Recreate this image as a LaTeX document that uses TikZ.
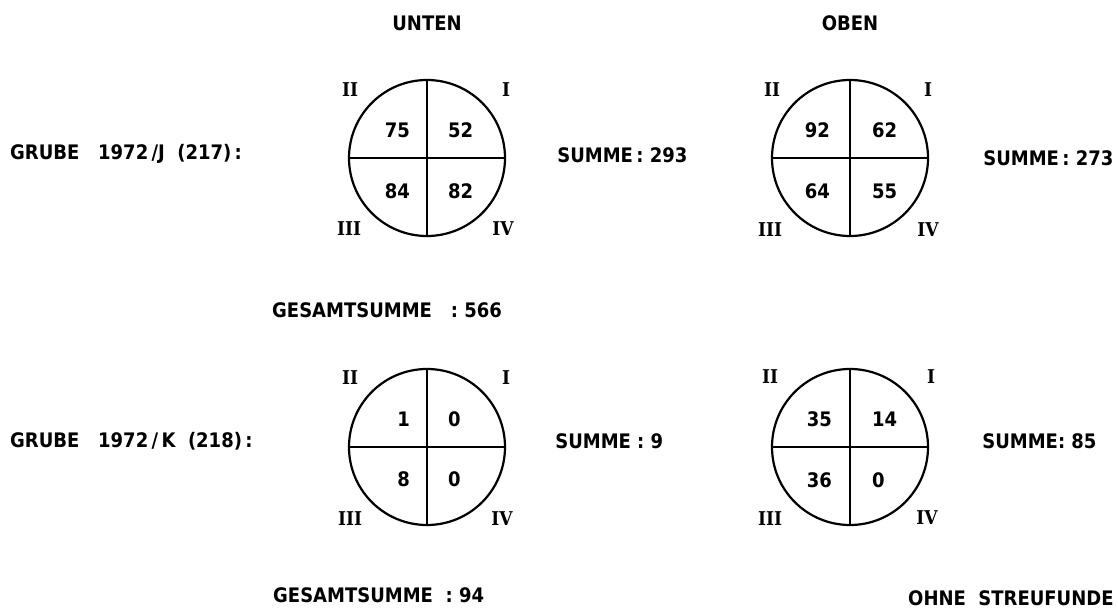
\documentclass[tikz,border=0pt]{standalone}
\usepackage{fontspec}
\setsansfont{DejaVu Sans Condensed}
\newfontfamily\roemfont{DejaVu Serif Condensed}
\usetikzlibrary{positioning}

\begin{document}
\begin{tikzpicture}[x=1pt, y=-1pt,
    txt/.style={font=\sffamily\bfseries\fontsize{20}{24}\selectfont, inner sep=0pt},
    roem/.style={font=\roemfont\bfseries\fontsize{19}{22}\selectfont, inner sep=0pt},
    quad/.style={circle, draw, line width=2.2pt, minimum size=156pt, inner sep=0pt},
    kreuz/.style={line width=1.8pt}]
  \useasboundingbox (0,0) rectangle (1118,610);

  \node[quad] (ju) at (427,158) {};
  \node[quad] (jo) at (850,158) {};
  \node[quad] (ku) at (427,447) {};
  \node[quad] (ko) at (850,447) {};

  \draw[kreuz] (ju.north) -- (ju.south);
  \draw[kreuz] (ju.west) -- (ju.east);
  \draw[kreuz] (jo.north) -- (jo.south);
  \draw[kreuz] (jo.west) -- (jo.east);
  \draw[kreuz] (ku.north) -- (ku.south);
  \draw[kreuz] (ku.west) -- (ku.east);
  \draw[kreuz] (ko.north) -- (ko.south);
  \draw[kreuz] (ko.west) -- (ko.east);

  \node[txt, above=48pt of ju] (unten) {UNTEN};
  \node[txt, above=48pt of jo] (oben) {OBEN};

  \node[txt, anchor=west] (grubej) at (10,154) {GRUBE~~~1972\,/J~~(217)\,:};
  \node[txt, anchor=west] (grubek) at (10,441) {GRUBE~~~1972\,/\,K~~(218)\,:};

  \node[txt, right=51pt of ju, yshift=3] (sju) {SUMME\,:~293};
  \node[txt, right=54pt of jo] (sjo) {SUMME\,:~273};
  \node[txt, right=49pt of ku, yshift=6] (sku) {SUMME~:~9};
  \node[txt, right=53pt of ko, yshift=6] (sko) {SUMME:~85};

  \node[txt, anchor=west] (gesj) at (272,310) {GESAMTSUMME~~~:~566};
  \node[txt, anchor=west] (gesk) at (273,595) {GESAMTSUMME~~:~94};
  \node[txt, anchor=west] (ohne) at (908,598) {OHNE~~STREUFUNDE};

  \node[txt, anchor=east, xshift=-17, yshift=28] (ju2) at (ju) {75};
  \node[txt, anchor=west, xshift=21, yshift=28] (ju1) at (ju) {52};
  \node[txt, anchor=east, xshift=-17, yshift=-33] (ju3) at (ju) {84};
  \node[txt, anchor=west, xshift=21, yshift=-33] (ju4) at (ju) {82};

  \node[txt, anchor=east, xshift=-20, yshift=28] (jo2) at (jo) {92};
  \node[txt, anchor=west, xshift=22, yshift=28] (jo1) at (jo) {62};
  \node[txt, anchor=east, xshift=-20, yshift=-33] (jo3) at (jo) {64};
  \node[txt, anchor=west, xshift=22, yshift=-33] (jo4) at (jo) {55};

  \node[txt, anchor=east, xshift=-17, yshift=28] (ku2) at (ku) {1};
  \node[txt, anchor=west, xshift=21, yshift=28] (ku1) at (ku) {0};
  \node[txt, anchor=east, xshift=-17, yshift=-32] (ku3) at (ku) {8};
  \node[txt, anchor=west, xshift=21, yshift=-32] (ku4) at (ku) {0};

  \node[txt, anchor=east, xshift=-18, yshift=28] (ko2) at (ko) {35};
  \node[txt, anchor=west, xshift=22, yshift=28] (ko1) at (ko) {14};
  \node[txt, anchor=east, xshift=-18, yshift=-33] (ko3) at (ko) {36};
  \node[txt, anchor=west, xshift=22, yshift=-33] (ko4) at (ko) {0};

  \node[roem, xshift=-77, yshift=68] (juii) at (ju) {II};
  \node[roem, xshift=79, yshift=68] (jui) at (ju) {I};
  \node[roem, xshift=-78, yshift=-71] (juiii) at (ju) {III};
  \node[roem, xshift=76, yshift=-71] (juiv) at (ju) {IV};

  \node[roem, xshift=-78, yshift=68] (joii) at (jo) {II};
  \node[roem, xshift=78, yshift=68] (joi) at (jo) {I};
  \node[roem, xshift=-80, yshift=-72] (joiii) at (jo) {III};
  \node[roem, xshift=78, yshift=-72] (joiv) at (jo) {IV};

  \node[roem, xshift=-77, yshift=69] (kuii) at (ku) {II};
  \node[roem, xshift=79, yshift=69] (kui) at (ku) {I};
  \node[roem, xshift=-77, yshift=-72] (kuiii) at (ku) {III};
  \node[roem, xshift=75, yshift=-72] (kuiv) at (ku) {IV};

  \node[roem, xshift=-80, yshift=70] (koii) at (ko) {II};
  \node[roem, xshift=81, yshift=70] (koi) at (ko) {I};
  \node[roem, xshift=-80, yshift=-72] (koiii) at (ko) {III};
  \node[roem, xshift=77, yshift=-71] (koiv) at (ko) {IV};
\end{tikzpicture}
\end{document}
